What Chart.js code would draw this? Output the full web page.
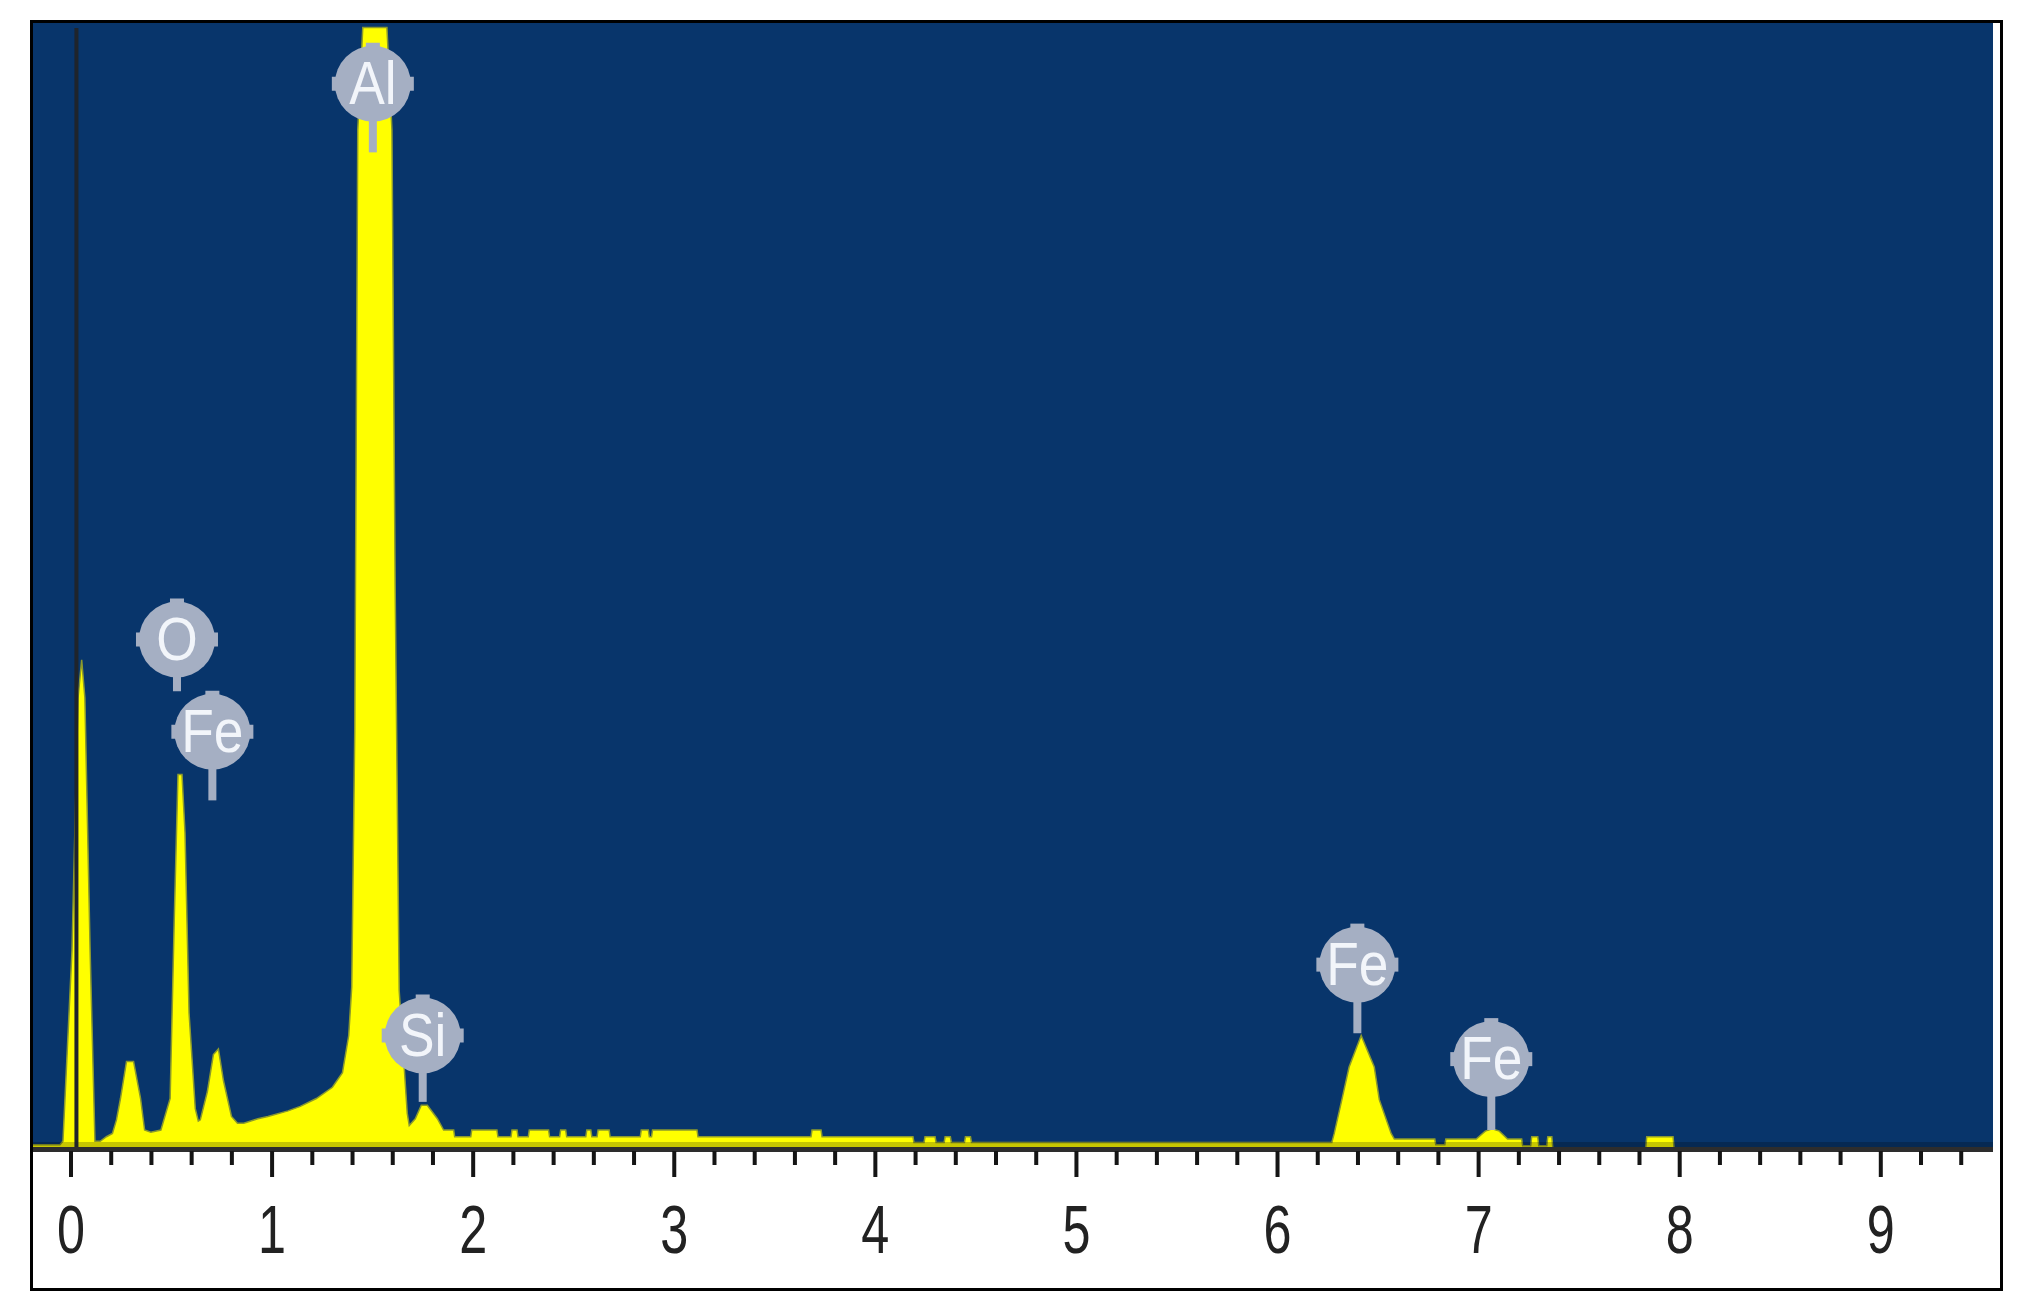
<!DOCTYPE html>
<html>
<head>
<meta charset="utf-8">
<script src="https://cdn.jsdelivr.net/npm/chart.js@4.4.1/dist/chart.umd.min.js"></script>
<style>
  html, body { margin: 0; padding: 0; background: #fff; }
  #box {
    position: absolute; left: 30px; top: 20px;
    width: 1973px; height: 1271px;
    border: 3px solid #000; box-sizing: border-box; background: #fff;
  }
  #box canvas { display: block; }
</style>
</head>
<body>
<div id="box"><canvas id="eds"></canvas></div>
<script>
// spectrum (keV, % of plot height)
const energy = [
  -0.19, -0.055, -0.04, 0.005, 0.035, 0.053, 0.069, 0.095, 0.119, 0.145,
  0.176, 0.206, 0.226, 0.246, 0.276, 0.311, 0.346, 0.366, 0.397, 0.447,
  0.493, 0.513, 0.532, 0.552, 0.567, 0.587, 0.618, 0.633, 0.643, 0.678,
  0.708, 0.733, 0.758, 0.798, 0.828, 0.859, 0.929, 0.979, 1.079, 1.140,
  1.220, 1.300, 1.350, 1.381, 1.396, 1.411, 1.426, 1.451, 1.571, 1.596,
  1.612, 1.632, 1.672, 1.682, 1.712, 1.742, 1.772, 1.822, 1.853, 1.903,
  1.908, 1.988, 1.993, 2.118, 2.123, 2.188, 2.193, 2.218, 2.223, 2.274,
  2.279, 2.375, 2.380, 2.430, 2.435, 2.460, 2.465, 2.560, 2.565, 2.585,
  2.590, 2.616, 2.621, 2.676, 2.681, 2.831, 2.836, 2.871, 2.876, 2.887,
  2.892, 3.113, 3.118, 3.680, 3.685, 3.730, 3.735, 4.187, 4.192, 4.242,
  4.247, 4.297, 4.302, 4.342, 4.347, 4.373, 4.378, 4.443, 4.448, 4.473,
  4.478, 6.270, 6.282, 6.320, 6.356, 6.416, 6.481, 6.506, 6.565, 6.581,
  6.782, 6.787, 6.832, 6.837, 6.988, 7.033, 7.068, 7.103, 7.144, 7.214,
  7.219, 7.259, 7.264, 7.294, 7.299, 7.339, 7.344, 7.364, 7.369, 7.831,
  7.836, 7.967, 7.972, 9.56
];
const counts = [
  0.3, 0.3, 0.6, 17.6, 40, 43.4, 40, 17.6, 0.6, 0.6,
  1.0, 1.3, 2.5, 4.4, 7.7, 7.7, 4.4, 1.6, 1.4, 1.6,
  4.4, 20, 33.2, 33.2, 28, 12, 3.5, 2.4, 2.5, 5.0,
  8.3, 8.8, 6.0, 2.8, 2.2, 2.2, 2.6, 2.8, 3.3, 3.7,
  4.4, 5.4, 6.7, 10, 14.3, 37, 90.5, 99.6, 99.6, 90.5,
  50, 14, 3.1, 2.0, 2.6, 3.8, 3.8, 2.6, 1.6, 1.6,
  1.0, 1.0, 1.6, 1.6, 1.0, 1.0, 1.6, 1.6, 1.0, 1.0,
  1.6, 1.6, 1.0, 1.0, 1.6, 1.6, 1.0, 1.0, 1.6, 1.6,
  1.0, 1.0, 1.6, 1.6, 1.0, 1.0, 1.6, 1.6, 1.0, 1.0,
  1.6, 1.6, 1.0, 1.0, 1.6, 1.6, 1.0, 1.0, 0.5, 0.5,
  1.0, 1.0, 0.5, 0.5, 1.0, 1.0, 0.5, 0.5, 1.0, 1.0,
  0.5, 0.5, 1.3, 4.3, 7.2, 10.0, 7.2, 4.3, 1.3, 0.8,
  0.8, 0.3, 0.3, 0.8, 0.8, 1.5, 1.7, 1.5, 0.8, 0.8,
  0.2, 0.2, 1.0, 1.0, 0.2, 0.2, 1.0, 1.0, 0, 0,
  1.0, 1.0, 0, 0
];

// element markers
const peakLabels = ["Al", "O", "Fe", "Si", "Fe", "Fe"];
const peakEnergy = [1.501, 0.527, 0.703, 1.749, 6.397, 7.063];
const peakBadgeY = [94.6, 45.2, 37.0, 10.0, 16.3, 7.9];
const peakStemY = [88.5, 40.6, 30.9, 4.1, 10.2, 1.6];

const tickLabels = ["0", "1", "2", "3", "4", "5", "6", "7", "8", "9"];
const markerEnergy = 0.027;

const xMin = -0.189, xMax = 9.558;
const plotBlue = "#08356b";
const badgeGrey = "#a5afc3";

const edsPlugin = {
  id: "edsDecor",
  beforeDraw(chart) {
    const a = chart.chartArea, ctx = chart.ctx;
    ctx.save();
    ctx.fillStyle = plotBlue;
    ctx.fillRect(a.left, a.top, a.right - a.left, a.bottom - a.top);
    ctx.restore();
  },
  afterDatasetsDraw(chart) {
    const a = chart.chartArea, ctx = chart.ctx;
    const x = chart.scales.x, y = chart.scales.y;
    ctx.save();
    // darker strip along the bottom of the plot
    ctx.fillStyle = "rgba(0,0,0,0.22)";
    ctx.fillRect(a.left, a.bottom - 6, a.right - a.left, 6);
    // marker line near zero
    const mx = x.getPixelForValue(markerEnergy);
    ctx.fillStyle = "#1f242b";
    ctx.fillRect(mx - 2, a.top + 5, 4, a.bottom - a.top - 5);
    // baseline
    ctx.fillStyle = "#2d2d2d";
    ctx.fillRect(a.left, a.bottom - 1, a.right - a.left, 5);
    // tick marks and labels
    ctx.fillStyle = "#151515";
    ctx.font = "68px 'Liberation Sans', Arial, sans-serif";
    ctx.textAlign = "center";
    ctx.textBaseline = "alphabetic";
    x.ticks.forEach(t => {
      const v = t.value;
      if (v < -0.001 || v > 9.41) return;
      const px = x.getPixelForValue(v);
      const n = Math.round(v);
      const major = Math.abs(v - n) < 1e-6;
      ctx.fillRect(px - 2, a.bottom + 3, 4, major ? 26 : 14);
      if (major && tickLabels[n] !== undefined) {
        ctx.save();
        ctx.translate(px, a.bottom + 105);
        ctx.scale(0.74, 1);
        ctx.fillStyle = "#222";
        ctx.fillText(tickLabels[n], 0, 0);
        ctx.restore();
      }
    });
    // element badges
    peakLabels.forEach((lab, i) => {
      const cx = x.getPixelForValue(peakEnergy[i]);
      const cy = y.getPixelForValue(peakBadgeY[i]);
      const sb = y.getPixelForValue(peakStemY[i]);
      const r = 38;
      ctx.fillStyle = badgeGrey;
      ctx.fillRect(cx - 4, cy, 8, sb - cy);
      ctx.fillRect(cx - 7, cy - r - 3, 14, 10);
      ctx.fillRect(cx - r - 3, cy - 7, 10, 14);
      ctx.fillRect(cx + r - 7, cy - 7, 10, 14);
      ctx.beginPath();
      ctx.arc(cx, cy, r, 0, Math.PI * 2);
      ctx.fill();
      ctx.save();
      ctx.translate(cx, cy + 3);
      ctx.scale(0.86, 1);
      ctx.fillStyle = "#f2f5fa";
      ctx.font = "62px 'Liberation Sans', Arial, sans-serif";
      ctx.textAlign = "center";
      ctx.textBaseline = "middle";
      ctx.fillText(lab, 0, 0);
      ctx.restore();
    });
    ctx.restore();
  }
};

const ctx = document.getElementById("eds").getContext("2d");
new Chart(ctx, {
  type: "line",
  data: {
    datasets: [{
      data: energy.map((e, i) => ({ x: e, y: counts[i] })),
      fill: "origin",
      backgroundColor: "#ffff00",
      borderColor: "#8c9a2c",
      borderWidth: 1.5,
      pointRadius: 0,
      tension: 0
    }]
  },
  options: {
    responsive: true,
    maintainAspectRatio: false,
    animation: false,
    events: [],
    layout: { padding: { left: 0, right: 7, top: 0, bottom: 140 } },
    plugins: { legend: { display: false }, tooltip: { enabled: false } },
    scales: {
      x: {
        type: "linear",
        min: xMin,
        max: xMax,
        grid: { display: false, drawTicks: false },
        border: { display: false },
        ticks: {
          display: false,
          stepSize: 0.2,
          includeBounds: false,
          autoSkip: false,
          maxRotation: 0
        },
        afterFit: s => { s.paddingLeft = 0; s.paddingRight = 0; }
      },
      y: {
        display: false,
        min: 0,
        max: 100
      }
    }
  },
  plugins: [edsPlugin]
});
</script>
</body>
</html>
